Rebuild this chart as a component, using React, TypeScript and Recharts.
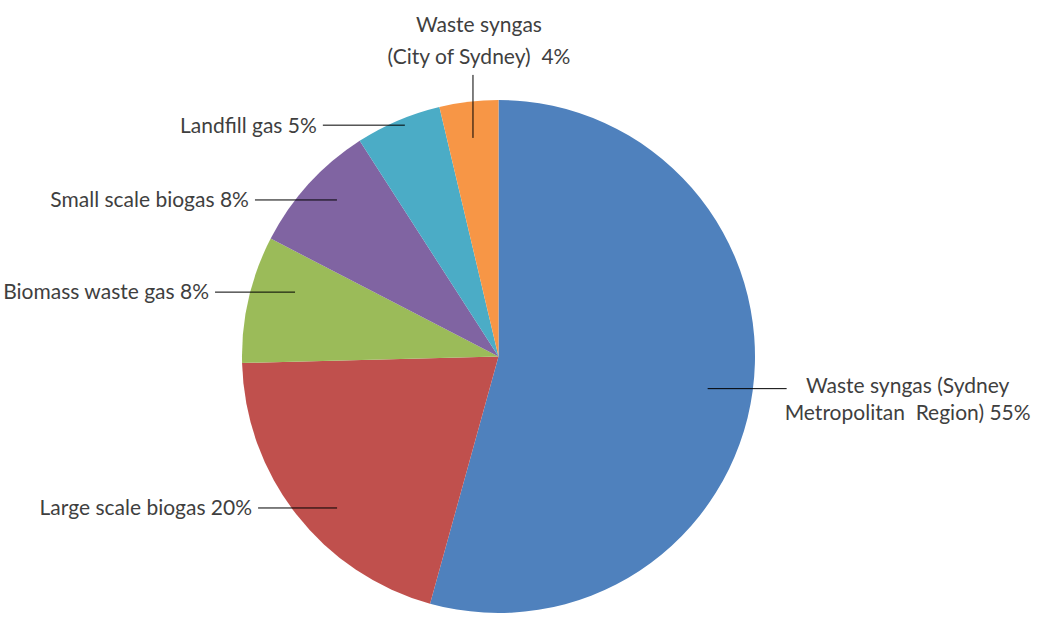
import { PieChart, Pie, Cell } from "recharts"

// slices, clockwise from 12 o'clock
const names = [
  "Waste syngas (Sydney Metropolitan Region)",
  "Large scale biogas",
  "Biomass waste gas",
  "Small scale biogas",
  "Landfill gas",
  "Waste syngas (City of Sydney)",
]
const shares = [54.3, 20.3, 8.0, 8.3, 5.4, 3.7]
const labelLines = [
  ["Waste syngas (Sydney", "Metropolitan\u00a0 Region) 55%"],
  ["Large scale biogas 20%"],
  ["Biomass waste gas 8%"],
  ["Small scale biogas 8%"],
  ["Landfill gas 5%"],
  ["Waste syngas", "(City of Sydney)\u00a0 4%"],
]
const colors = ["#4F81BD", "#C0504D", "#9BBB59", "#8064A2", "#4BACC6", "#F79646"]

// leader placement: anchor inside slice (fraction of radius, angle nudge), line length and direction
const leaders = [
  { r: 0.825, shift: -1, len: 79, dir: "right" },
  { r: 0.863, shift: 5.2, len: 79, dir: "left" },
  { r: 0.832, shift: -4.6, len: 80, dir: "left" },
  { r: 0.877, shift: -1.8, len: 82, dir: "left" },
  { r: 0.973, shift: -1, len: 82, dir: "left" },
  { r: 0.858, shift: 0, len: 63, dir: "up" },
]

const data = names.map((name, i) => ({ name, value: shares[i] }))

const RAD = Math.PI / 180
const FONT = "Lato, 'Open Sans', sans-serif"

function renderLabel(props: any) {
  const { cx, cy, midAngle, outerRadius, index } = props
  const l = leaders[index]
  const a = midAngle + l.shift
  const ax = cx + outerRadius * l.r * Math.cos(-a * RAD)
  const ay = cy + outerRadius * l.r * Math.sin(-a * RAD)
  const lines = labelLines[index]
  const txt = { fontFamily: FONT, fontSize: 21, fill: "#3f3f3f" }

  if (l.dir === "up") {
    const top = ay - l.len
    return (
      <g key={`lbl-${index}`}>
        <line x1={ax} y1={ay} x2={ax} y2={top} stroke="#000" strokeWidth={1} />
        <text x={ax + 6} y={top - 50} textAnchor="middle" dy="0.35em" {...txt}>{lines[0]}</text>
        <text x={ax + 6} y={top - 18} textAnchor="middle" dy="0.35em" {...txt}>{lines[1]}</text>
      </g>
    )
  }
  if (l.dir === "right") {
    const end = ax + l.len
    return (
      <g key={`lbl-${index}`}>
        <line x1={ax} y1={ay} x2={end} y2={ay} stroke="#000" strokeWidth={1} />
        <text x={end + 121} y={ay - 3} textAnchor="middle" dy="0.35em" {...txt}>{lines[0]}</text>
        <text x={end + 121} y={ay + 24} textAnchor="middle" dy="0.35em" {...txt}>{lines[1]}</text>
      </g>
    )
  }
  const start = ax - l.len
  return (
    <g key={`lbl-${index}`}>
      <line x1={ax} y1={ay} x2={start} y2={ay} stroke="#000" strokeWidth={1} />
      <text x={start - 6} y={ay} textAnchor="end" dy="0.35em" {...txt}>{lines[0]}</text>
    </g>
  )
}

export default function App() {
  return (
    <div style={{ position: "absolute", left: 0, top: 0, width: 1050, height: 619, background: "#fff" }}>
      <PieChart width={1050} height={619} margin={{ top: 0, right: 0, bottom: 0, left: 0 }}>
        <Pie
          data={data}
          dataKey="value"
          nameKey="name"
          cx={498.5}
          cy={356.5}
          outerRadius={256.5}
          startAngle={90}
          endAngle={-270}
          stroke="none"
          label={renderLabel}
          labelLine={false}
          isAnimationActive={false}
        >
          {data.map((d, i) => (
            <Cell key={d.name} fill={colors[i]} />
          ))}
        </Pie>
      </PieChart>
    </div>
  )
}
